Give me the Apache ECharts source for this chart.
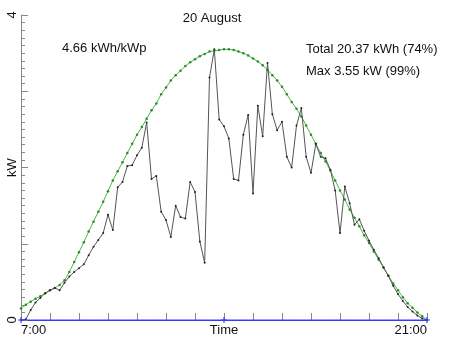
<!DOCTYPE html>
<html>
<head>
<meta charset="utf-8">
<script src="https://cdn.jsdelivr.net/npm/echarts@6/dist/echarts.min.js"></script>
<style>
  html, body { margin: 0; padding: 0; background: #fff; }
  #chart { width: 452px; height: 339px; }
</style>
</head>
<body>
<div id="chart"></div>
<script>
// Sample times, every 10 minutes from 7:00 to 21:00
const times = [
  '7:00','7:10','7:20','7:30','7:40','7:50',
  '8:00','8:10','8:20','8:30','8:40','8:50',
  '9:00','9:10','9:20','9:30','9:40','9:50',
  '10:00','10:10','10:20','10:30','10:40','10:50',
  '11:00','11:10','11:20','11:30','11:40','11:50',
  '12:00','12:10','12:20','12:30','12:40','12:50',
  '13:00','13:10','13:20','13:30','13:40','13:50',
  '14:00','14:10','14:20','14:30','14:40','14:50',
  '15:00','15:10','15:20','15:30','15:40','15:50',
  '16:00','16:10','16:20','16:30','16:40','16:50',
  '17:00','17:10','17:20','17:30','17:40','17:50',
  '18:00','18:10','18:20','18:30','18:40','18:50',
  '19:00','19:10','19:20','19:30','19:40','19:50',
  '20:00','20:10','20:20','20:30','20:40','20:50',
  '21:00'
];

// Measured PV output (kW)
const measuredKw = [
  0, 0.01, 0.13, 0.23, 0.29, 0.35,
  0.39, 0.42, 0.39, 0.49, 0.57, 0.63,
  0.68, 0.73, 0.85, 0.96, 1.05, 1.14,
  1.38, 1.18, 1.74, 1.81, 2.02, 2.03,
  2.16, 2.26, 2.59, 1.85, 1.89, 1.42,
  1.31, 1.09, 1.50, 1.35, 1.33, 1.81,
  1.68, 1.03, 0.75, 3.18, 3.55, 2.63,
  2.54, 2.38, 1.85, 1.83, 2.43, 2.69,
  1.66, 2.81, 2.41, 3.37, 2.70, 2.49,
  2.60, 2.14, 2.00, 2.55, 2.78, 2.14,
  1.93, 2.31, 2.14, 2.12, 1.97, 1.70,
  1.14, 1.75, 1.53, 1.25, 1.32, 1.17,
  1.04, 0.92, 0.81, 0.69, 0.58, 0.45,
  0.34, 0.25, 0.17, 0.11, 0.06, 0.02,
  0
];

// Clear-sky reference output (kW)
const clearSkyKw = [
  0.15, 0.20, 0.24, 0.28, 0.31, 0.35,
  0.39, 0.42, 0.46, 0.52, 0.63, 0.76,
  0.89, 1.02, 1.16, 1.29, 1.42, 1.55,
  1.69, 1.83, 1.95, 2.07, 2.19, 2.31,
  2.43, 2.53, 2.64, 2.75, 2.84, 2.96,
  3.05, 3.14, 3.21, 3.27, 3.33, 3.38,
  3.42, 3.46, 3.49, 3.52, 3.53, 3.54,
  3.55, 3.55, 3.54, 3.52, 3.50, 3.47,
  3.43, 3.39, 3.34, 3.28, 3.21, 3.14,
  3.06, 2.96, 2.86, 2.77, 2.67, 2.55,
  2.43, 2.31, 2.19, 2.08, 1.96, 1.83,
  1.70, 1.58, 1.45, 1.34, 1.23, 1.11,
  1.01, 0.90, 0.79, 0.69, 0.58, 0.48,
  0.39, 0.30, 0.22, 0.16, 0.10, 0.05,
  0
];

// Baseline series (kW)
const baselineKw = [
  0,0,0,0,0,0, 0,0,0,0,0,0, 0,0,0,0,0,0, 0,0,0,0,0,0,
  0,0,0,0,0,0, 0,0,0,0,0,0, 0,0,0,0,0,0, 0,0,0,0,0,0,
  0,0,0,0,0,0, 0,0,0,0,0,0, 0,0,0,0,0,0, 0,0,0,0,0,0,
  0,0,0,0,0,0, 0,0,0,0,0,0, 0
];

// Axis tick labels
const xTickLabels = { '7:00': '7:00', '14:00': 'Time', '21:00': '21:00' };
const yTickLabels = ['0', '', 'kW', '', '4'];

// Annotations
const titleText = '20 August';
const yieldText = '4.66 kWh/kWp';
const totalText = 'Total 20.37 kWh (74%)';
const maxText = 'Max 3.55 kW (99%)';

const FONT = 'Liberation Sans, Arial, Helvetica, sans-serif';
// Small filled "+" marker
const plusPath = 'path://M2,0H3V2H5V3H3V5H2V3H0V2H2Z';

const chart = echarts.init(document.getElementById('chart'), null, { renderer: 'canvas' });

chart.setOption({
  animation: false,
  backgroundColor: '#fff',
  textStyle: { fontFamily: FONT },
  grid: { left: 21, right: 25, top: 15, bottom: 19, containLabel: false },
  xAxis: {
    type: 'category',
    data: times,
    boundaryGap: false,
    axisLine: { show: true, lineStyle: { color: '#3a3aff', width: 1 } },
    axisTick: {
      show: true, inside: true, length: 7, interval: 5,
      lineStyle: { color: '#888', width: 1 }
    },
    axisLabel: {
      show: true,
      interval: (i, v) => v in xTickLabels,
      formatter: v => xTickLabels[v] || '',
      alignMinLabel: 'left',
      alignMaxLabel: 'right',
      margin: 4,
      fontSize: 13,
      color: '#111',
      fontFamily: FONT
    },
    splitLine: { show: false }
  },
  yAxis: {
    type: 'value',
    min: 0, max: 4, interval: 1,
    axisLine: { show: true, lineStyle: { color: '#888', width: 1 } },
    axisTick: { show: true, inside: true, length: 7, lineStyle: { color: '#888' } },
    minorTick: { show: true, splitNumber: 10, length: 4, lineStyle: { color: '#888' } },
    axisLabel: {
      rotate: 90,
      margin: 2,
      fontSize: 13,
      color: '#111',
      fontFamily: FONT,
      formatter: v => yTickLabels[Math.round(v)] || ''
    },
    splitLine: { show: false },
    minorSplitLine: { show: false }
  },
  series: [
    {
      name: 'Clear sky',
      type: 'line',
      data: clearSkyKw,
      symbol: 'circle',
      symbolSize: 2.5,
      showSymbol: true,
      lineStyle: { color: '#4cb84c', width: 1 },
      itemStyle: { color: '#2a8a2a' },
      z: 2
    },
    {
      name: 'Measured',
      type: 'line',
      data: measuredKw,
      symbol: 'circle',
      symbolSize: 2,
      showSymbol: true,
      lineStyle: { color: '#555', width: 1 },
      itemStyle: { color: '#222' },
      z: 3
    },
    {
      name: 'Baseline',
      type: 'line',
      data: baselineKw,
      symbol: plusPath,
      symbolSize: 6,
      showSymbol: true,
      lineStyle: { color: '#3a3aff', width: 1 },
      itemStyle: { color: '#3a3aff' },
      z: 4
    }
  ],
  graphic: [
    { type: 'text', x: 212, y: 18, style: { text: titleText, font: '13px ' + FONT, fill: '#111', align: 'center', verticalAlign: 'middle' } },
    { type: 'text', x: 62, y: 48, style: { text: yieldText, font: '13px ' + FONT, fill: '#111', align: 'left', verticalAlign: 'middle' } },
    { type: 'text', x: 306, y: 49, style: { text: totalText, font: '13px ' + FONT, fill: '#111', align: 'left', verticalAlign: 'middle' } },
    { type: 'text', x: 306, y: 71, style: { text: maxText, font: '13px ' + FONT, fill: '#111', align: 'left', verticalAlign: 'middle' } }
  ]
});
</script>
</body>
</html>
